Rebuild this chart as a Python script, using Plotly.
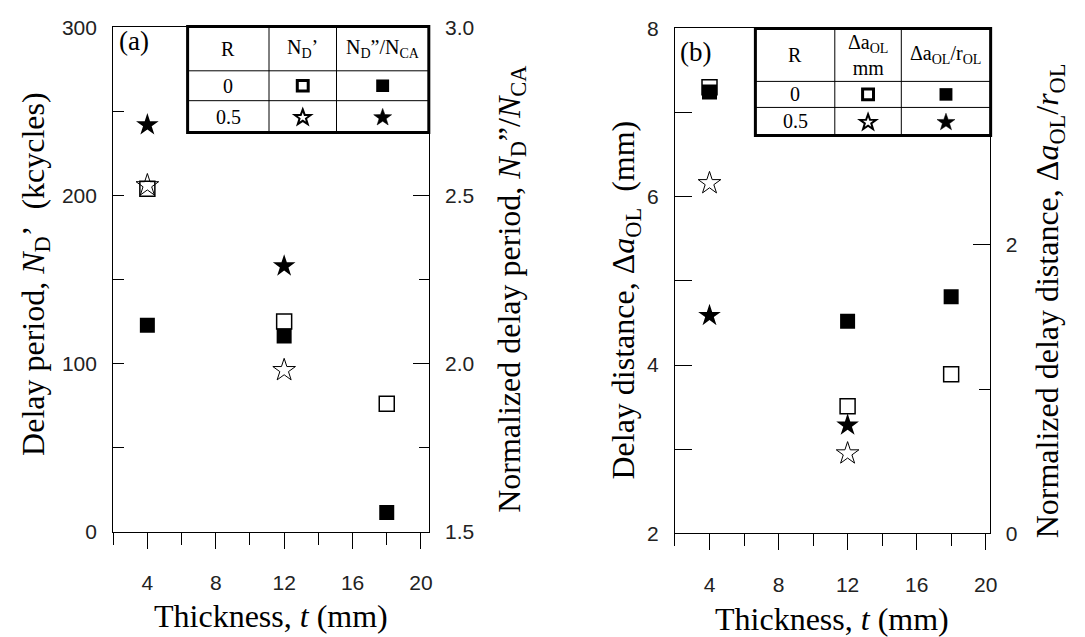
import math
import plotly.graph_objects as go

# ---------------- data ----------------
thickness = [4, 12, 18]
thickness_r05 = [4, 12]

# panel (a)
nd_prime_r0 = [204, 125, 76]          # N_D' (kcycles), R=0, open square (left axis)
nd_prime_r05 = [206, 96]              # N_D' (kcycles), R=0.5, open star (left axis)
nd_norm_r0 = [2.114, 2.082, 1.557]    # N_D''/N_CA, R=0, filled square (right axis)
nd_norm_r05 = [2.71, 2.29]            # N_D''/N_CA, R=0.5, filled star (right axis)

# panel (b)
da_r0 = [7.30, 3.51, 3.89]            # delta a_OL (mm), R=0, open square (left axis)
da_r05 = [6.16, 2.95]                 # delta a_OL (mm), R=0.5, open star (left axis)
da_norm_r0 = [3.06, 1.47, 1.64]       # delta a_OL / r_OL, R=0, filled square (right axis)
da_norm_r05 = [1.51, 0.75]            # delta a_OL / r_OL, R=0.5, filled star (right axis)

x_tickvals = [4, 8, 12, 16, 20]

W, H = 1085, 637
def px(x):
    return x / W
def py(y):
    return 1 - y / H

SERIF = "Liberation Serif"
SANS = "Liberation Sans"
BLACK = "#000000"

fig = go.Figure()

def sq_open(size=15, lw=1.5):
    return dict(symbol="square-open", size=size, color=BLACK, line=dict(width=lw, color=BLACK))
def sq_fill(size=15):
    return dict(symbol="square", size=size, color=BLACK, line=dict(width=0))
def star_open(size=17, lw=1):
    return dict(symbol="star-open", size=size, color=BLACK, line=dict(width=lw, color=BLACK))
def star_fill(size=17):
    return dict(symbol="star", size=size, color=BLACK, line=dict(width=0))

# panel (a)
fig.add_trace(go.Scatter(x=thickness, y=nd_prime_r0, mode="markers", marker=sq_open(), xaxis="x", yaxis="y"))
fig.add_trace(go.Scatter(x=thickness_r05, y=nd_prime_r05, mode="markers", marker=star_open(), xaxis="x", yaxis="y"))
fig.add_trace(go.Scatter(x=thickness, y=nd_norm_r0, mode="markers", marker=sq_fill(), xaxis="x", yaxis="y2"))
fig.add_trace(go.Scatter(x=thickness_r05, y=nd_norm_r05, mode="markers", marker=star_fill(), xaxis="x", yaxis="y2"))
# panel (b)
fig.add_trace(go.Scatter(x=thickness, y=da_r0, mode="markers", marker=sq_open(), xaxis="x2", yaxis="y3"))
fig.add_trace(go.Scatter(x=thickness_r05, y=da_r05, mode="markers", marker=star_open(), xaxis="x2", yaxis="y3"))
fig.add_trace(go.Scatter(x=thickness, y=da_norm_r0, mode="markers", marker=sq_fill(), xaxis="x2", yaxis="y4"))
fig.add_trace(go.Scatter(x=thickness_r05, y=da_norm_r05, mode="markers", marker=star_fill(), xaxis="x2", yaxis="y4"))

# ---------------- table legends (layout) ----------------
tables = [
    dict(x0=189, x1=432, cols=[271, 339], y0=15, y1=125, rows=[61, 92],
         header=["R", "N<sub>D</sub>’", "N<sub>D</sub>”/N<sub>CA</sub>"]),
    dict(x0=761, x1=998, cols=[841, 908], y0=17, y1=128, rows=[72, 99],
         header=["R", "Δa<sub>OL</sub><br>mm", "Δa<sub>OL</sub>/r<sub>OL</sub>"]),
]
row_labels = ["0", "0.5"]

def star_path(cx, cy, r_out):
    r_in = r_out * 0.4
    pts = []
    for k in range(10):
        ang = -math.pi / 2 + k * math.pi / 5
        r = r_out if k % 2 == 0 else r_in
        pts.append((px(cx + r * math.cos(ang)), py(cy + r * math.sin(ang))))
    return "M " + " L ".join(f"{a:.6f},{b:.6f}" for a, b in pts) + " Z"

shapes = []
annotations = []
for t in tables:
    xs = [t["x0"]] + t["cols"] + [t["x1"]]
    ys = [t["y0"]] + t["rows"] + [t["y1"]]
    shapes.append(dict(type="rect", xref="paper", yref="paper", x0=px(t["x0"]), x1=px(t["x1"]),
                       y0=py(t["y0"]), y1=py(t["y1"]), fillcolor="white", line=dict(width=0), layer="above"))
    for c in t["cols"]:
        shapes.append(dict(type="line", xref="paper", yref="paper", x0=px(c), x1=px(c),
                           y0=py(t["y0"]), y1=py(t["y1"]), line=dict(color=BLACK, width=1), layer="above"))
    for r in t["rows"]:
        shapes.append(dict(type="line", xref="paper", yref="paper", x0=px(t["x0"]), x1=px(t["x1"]),
                           y0=py(r), y1=py(r), line=dict(color=BLACK, width=1), layer="above"))
    shapes.append(dict(type="rect", xref="paper", yref="paper", x0=px(t["x0"]), x1=px(t["x1"]),
                       y0=py(t["y0"]), y1=py(t["y1"]), line=dict(color=BLACK, width=3), layer="above"))
    cx = [(xs[i] + xs[i + 1]) / 2 for i in range(3)]
    cy = [(ys[i] + ys[i + 1]) / 2 for i in range(3)]
    for i, h in enumerate(t["header"]):
        annotations.append(dict(x=px(cx[i]), y=py(cy[0]), xref="paper", yref="paper", text=h,
                                showarrow=False, font=dict(family=SERIF, size=20, color=BLACK),
                                xanchor="center", yanchor="middle"))
    for j, rl in enumerate(row_labels):
        annotations.append(dict(x=px(cx[0]), y=py(cy[j + 1]), xref="paper", yref="paper", text=rl,
                                showarrow=False, font=dict(family=SERIF, size=20, color=BLACK),
                                xanchor="center", yanchor="middle"))
    # legend keys: squares (open / filled) on row R=0
    s = 6.5
    shapes.append(dict(type="rect", xref="paper", yref="paper", x0=px(cx[1] - s + 1), x1=px(cx[1] + s - 1),
                       y0=py(cy[1] - s + 1), y1=py(cy[1] + s - 1), line=dict(color=BLACK, width=3), layer="above"))
    shapes.append(dict(type="rect", xref="paper", yref="paper", x0=px(cx[2] - s), x1=px(cx[2] + s),
                       y0=py(cy[1] - s), y1=py(cy[1] + s), fillcolor=BLACK, line=dict(width=0), layer="above"))
    # stars on row R=0.5 (open / filled)
    shapes.append(dict(type="path", xref="paper", yref="paper", path=star_path(cx[1], cy[2] + 1, 8.5),
                       line=dict(color=BLACK, width=2), fillcolor="white", layer="above"))
    shapes.append(dict(type="path", xref="paper", yref="paper", path=star_path(cx[2], cy[2] + 1, 9.5),
                       line=dict(color=BLACK, width=0.5), fillcolor=BLACK, layer="above"))

# panel labels
annotations.append(dict(x=px(118), y=py(30), xref="paper", yref="paper", text="(a)", showarrow=False,
                        font=dict(family=SERIF, size=27, color=BLACK), xanchor="left", yanchor="middle"))
annotations.append(dict(x=px(683), y=py(41), xref="paper", yref="paper", text="(b)", showarrow=False,
                        font=dict(family=SERIF, size=27, color=BLACK), xanchor="left", yanchor="middle"))

# axis titles
TFS = 32
def title(x, y, text, angle=0):
    annotations.append(dict(x=px(x), y=py(y), xref="paper", yref="paper", text=text, showarrow=False,
                            textangle=angle, font=dict(family=SERIF, size=TFS, color=BLACK),
                            xanchor="center", yanchor="middle"))

NB = "\u00a0"
title(273, 627, "Thickness, <i>t</i> (mm)")
title(838, 630, "Thickness, <i>t</i> (mm)")
title(35, 272, f"Delay period,{NB}<i>N</i><sub>D</sub>’{NB}{NB}(kcycles)", -90)
title(515, 288, f"Normalized delay period,{NB}<i>N</i><sub>D</sub>”/<i>N</i><sub>CA</sub>", -90)
title(630, 299, f"Delay distance, Δ<i>a</i><sub>OL</sub>{NB}{NB}(mm)", -90)
title(1057, 300, "Normalized delay distance, Δ<i>a</i><sub>OL</sub>/<i>r</i><sub>OL</sub>", -90)

tickfont = dict(family=SANS, size=21, color="#222222")

def xax(domain, rng, anchor):
    return dict(domain=domain, range=rng, anchor=anchor, tickmode="array", tickvals=x_tickvals,
                ticks="outside", ticklen=16, tickwidth=1,
                tickcolor=BLACK, showline=True, linecolor=BLACK, linewidth=1, mirror=True,
                showgrid=False, zeroline=False, tickfont=tickfont, ticklabelstandoff=16,
                minor=dict(tick0=2, dtick=4, ticks="outside", ticklen=12, tickcolor=BLACK, tickwidth=1))

def yax(domain, rng, dtick, mdtick, anchor, side, ticklen, minorlen, fmt, overlaying=None):
    d = dict(domain=domain, range=rng, tickmode="linear", tick0=rng[0], dtick=dtick, tickformat=fmt,
             ticks="inside", ticklen=ticklen, tickwidth=1,
             tickcolor=BLACK, showline=True, linecolor=BLACK, linewidth=1, showgrid=False, zeroline=False,
             tickfont=tickfont, anchor=anchor, side=side, ticklabelstandoff=11,
             minor=dict(dtick=mdtick, ticks="inside", ticklen=minorlen, tickcolor=BLACK, tickwidth=1))
    if overlaying:
        d["overlaying"] = overlaying
    return d

xa = [px(114), px(432)]
xb = [px(680), px(997)]
ya = [py(539), py(16)]
yb = [py(541), py(17)]

fig.update_layout(
    width=W, height=H, margin=dict(l=0, r=0, t=0, b=0),
    paper_bgcolor="white", plot_bgcolor="white", showlegend=False,
    xaxis=xax(xa, [2, 20.46], "y"),
    xaxis2=xax(xb, [2, 20.23], "y3"),
    yaxis=yax(ya, [0, 300], 100, 50, "x", "left", 11, 11, "d"),
    yaxis2=yax(ya, [1.5, 3.0], 0.5, 0.25, "x", "right", 16, 10, ".1f", overlaying="y"),
    yaxis3=yax(yb, [2, 8], 2, 1, "x2", "left", 17, 17, "d"),
    yaxis4=yax(yb, [0, 3.5], 2, 1, "x2", "right", 17, 11, "d", overlaying="y3"),
    shapes=shapes, annotations=annotations,
)

fig.write_html("out.html")
